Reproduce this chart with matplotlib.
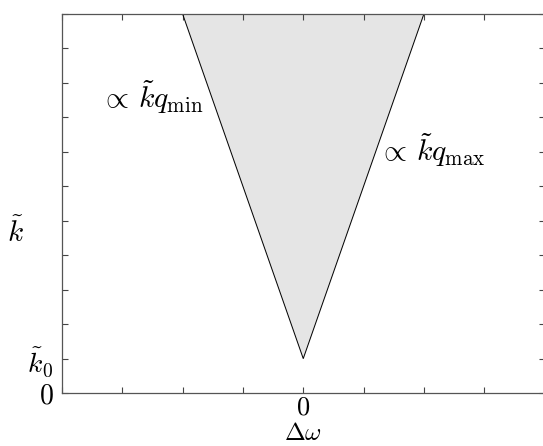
import numpy as np
import matplotlib
matplotlib.use("Agg")
import matplotlib.pyplot as plt

# =====================================================
# DATA
# =====================================================

apex_x = [0.0]
apex_y = [1.0]          # k0
top_y = 11.0
edge_x = [-2.0, 2.0]    # left (q_min) and right (q_max) edges at the top

x_ticks = list(range(-4, 5))
y_ticks = list(range(0, 12))
x_tick_labels = ["" if t != 0 else "$0$" for t in x_ticks]
y_tick_labels = ["$0$", r"$\tilde{k}_0$"] + [""] * 10

# =====================================================
# PLOT
# =====================================================

plt.rcParams["mathtext.fontset"] = "cm"
plt.rcParams["font.family"] = "serif"
plt.rcParams["font.serif"] = ["DejaVu Serif"]

fig = plt.figure(figsize=(5.43, 4.46), dpi=100)
ax = fig.add_axes([62 / 543, 53 / 446, 482.5 / 543, 379 / 446])

poly_x = [edge_x[0], apex_x[0], edge_x[1]]
poly_y = [top_y, apex_y[0], top_y]
ax.fill(poly_x, poly_y, color="#e5e5e5", zorder=1)
ax.plot(poly_x, poly_y, color="black", lw=0.7, zorder=2)

ax.set_xlim(-4, 4)
ax.set_ylim(0, 11)

ax.set_xticks(x_ticks)
ax.set_xticklabels(x_tick_labels, fontsize=19)
ax.set_yticks(y_ticks)
ax.set_yticklabels(y_tick_labels, fontsize=20)
ax.tick_params(direction="in", top=True, right=True, length=4,
               width=0.8, color="#444444", pad=6)
ax.tick_params(axis="x", pad=1)

for s in ax.spines.values():
    s.set_color("#555555")
    s.set_linewidth(0.9)

ax.text(-1.65, 8.6, r"$\propto\,\tilde{k}q_{\min}$", fontsize=21.5,
        ha="right", va="center")
ax.text(1.24, 7.05, r"$\propto\,\tilde{k}q_{\max}$", fontsize=21.5,
        ha="left", va="center")

fig.text(15 / 543, 1 - 233 / 446, r"$\tilde{k}$", fontsize=21,
         ha="center", va="center")
fig.text(303 / 543, 1 - 445 / 446, r"$\Delta\omega$", fontsize=18,
         ha="center", va="bottom")

fig.savefig("out.png", dpi=100)
